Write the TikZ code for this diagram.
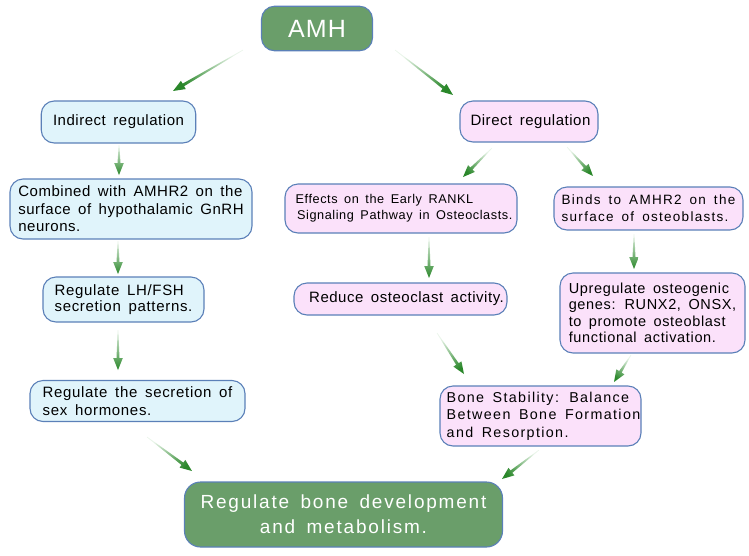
\documentclass[tikz,border=0pt]{standalone}
\usepackage{fontspec}
\setmainfont{Liberation Sans}[LetterSpace=5]
\newfontfamily\fa{Liberation Sans}[LetterSpace=3.5,WordSpace=1.6]
\newfontfamily\fb{Liberation Sans}[LetterSpace=4.5,WordSpace=1.6]
\newfontfamily\fd{Liberation Sans}[LetterSpace=9.5,WordSpace=1.6]
\usetikzlibrary{calc}
\definecolor{gfill}{HTML}{6A9E6A}
\definecolor{bord}{HTML}{5B80B8}
\definecolor{bfill}{HTML}{E0F4FB}
\definecolor{pfill}{HTML}{FBE1FA}
\definecolor{adark}{HTML}{2A872A}
\definecolor{alight}{HTML}{EAF5EA}
\tikzset{
  box/.style={draw=bord, line width=1.1pt, rounded corners=13pt, inner xsep=0pt, inner ysep=0pt, text=black},
  bbox/.style={box, fill=bfill},
  pbox/.style={box, fill=pfill},
  gbox/.style={box, fill=gfill, text=white},
}
\newcommand\garrow[2]{%
  \path (#1); \pgfgetlastxy{\gax}{\gay}%
  \path (#2); \pgfgetlastxy{\gbx}{\gby}%
  \pgfmathsetmacro\gang{atan2(\gby-\gay,\gbx-\gax)}%
  \pgfmathsetmacro\glen{veclen(\gbx-\gax,\gby-\gay)}%
  \pgfmathsetmacro\gsh{\gang+90}%
  \begin{scope}[shift={(#1)},rotate=\gang]
    \shade[left color=alight,right color=adark,shading angle=\gsh]
      (0pt,-0.3pt) -- ({\glen pt-12pt},-1.5pt) -- ({\glen pt-12pt},-4.8pt) -- (\glen pt,0pt)
      -- ({\glen pt-12pt},4.8pt) -- ({\glen pt-12pt},1.5pt) -- (0pt,0.3pt) -- cycle;
  \end{scope}}
\begin{document}
\begin{tikzpicture}[x=1pt,y=-1pt]
\useasboundingbox (0,0) rectangle (749,555);
% nodes
\node[gbox, minimum width=111pt, minimum height=44.5pt, font=\fb\fontsize{25}{28}\selectfont] (amh) at (317,28.5) {AMH};
\node[bbox, minimum width=154.5pt, minimum height=42pt, font=\fa\fontsize{15}{17}\selectfont] (ind) at (118.5,122) {Indirect regulation};
\node[bbox, minimum width=242pt, minimum height=60pt, align=left, font=\fa\fontsize{15}{17.5}\selectfont] (comb) at (131,209) {Combined with AMHR2 on the\\surface of hypothalamic GnRH\\neurons.};
\node[bbox, minimum width=161pt, minimum height=45pt, align=left, font=\fb\fontsize{15}{16.7}\selectfont] (lh) at (123.5,299.5) {Regulate LH/FSH\\secretion patterns.};
\node[bbox, minimum width=215pt, minimum height=41pt, align=left, font=\fb\fontsize{15}{18}\selectfont] (sex) at (137.5,401) {Regulate the secretion of\\sex hormones.\hspace*{7pt}};
\node[pbox, minimum width=138pt, minimum height=41pt, font=\fa\fontsize{15}{17}\selectfont] (dir) at (529,121.5) {\hspace*{3pt}Direct regulation};
\node[pbox, minimum width=232pt, minimum height=49pt, align=left, font=\fb\fontsize{12.7}{16}\selectfont] (eff) at (401,208.5) {\hspace*{6pt}Effects on the Early RANKL\\\hspace*{7.5pt}Signaling Pathway in Osteoclasts.};
\node[pbox, minimum width=189pt, minimum height=43pt, align=left, font=\fd\fontsize{13.5}{16.7}\selectfont] (binds) at (648.5,208.5) {Binds to AMHR2 on the\\surface of osteoblasts.};
\node[pbox, minimum width=213pt, minimum height=32pt, font=\fa\fontsize{15}{17}\selectfont] (red) at (400.5,299) {\hspace*{12pt}Reduce osteoclast activity.};
\node[pbox, minimum width=185pt, minimum height=80pt, align=left, font=\fb\fontsize{14.5}{16.5}\selectfont] (upr) at (652.5,313) {Upregulate osteogenic\\genes: RUNX2, ONSX,\\to promote osteoblast\\functional activation.};
\node[pbox, minimum width=201pt, minimum height=60pt, align=left, font=\fd\fontsize{14.3}{17.5}\selectfont] (stab) at (540.5,416) {\hspace*{6pt}Bone Stability: Balance\\\hspace*{6pt}Between Bone Formation\\\hspace*{6pt}and Resorption.};
\node[gbox, minimum width=318pt, minimum height=65pt, align=center, rounded corners=16pt, font=\fd\fontsize{19}{25}\selectfont] (bone) at (343.5,514.5) {Regulate bone development\\and metabolism.};
% arrow end points
\coordinate (a1s) at (243,50);  \coordinate (a1e) at (173,91);
\coordinate (a2s) at (395,50);  \coordinate (a2e) at (453,95);
\coordinate (a3s) at (119,145); \coordinate (a3e) at (119,175);
\coordinate (a4s) at (118,241); \coordinate (a4e) at (118,274);
\coordinate (a5s) at (118,330); \coordinate (a5e) at (118,370);
\coordinate (a6s) at (147,437); \coordinate (a6e) at (192,471);
\coordinate (a7s) at (492,148); \coordinate (a7e) at (463,177);
\coordinate (a8s) at (567,147); \coordinate (a8e) at (593,176);
\coordinate (a9s) at (429,237); \coordinate (a9e) at (429,278);
\coordinate (a10s) at (634,234); \coordinate (a10e) at (634,269);
\coordinate (a11s) at (437,333); \coordinate (a11e) at (464,374);
\coordinate (a12s) at (631,355); \coordinate (a12e) at (614,382);
\coordinate (a13s) at (539,450); \coordinate (a13e) at (502,479);
\garrow{a1s}{a1e}
\garrow{a2s}{a2e}
\garrow{a3s}{a3e}
\garrow{a4s}{a4e}
\garrow{a5s}{a5e}
\garrow{a6s}{a6e}
\garrow{a7s}{a7e}
\garrow{a8s}{a8e}
\garrow{a9s}{a9e}
\garrow{a10s}{a10e}
\garrow{a11s}{a11e}
\garrow{a12s}{a12e}
\garrow{a13s}{a13e}
\end{tikzpicture}
\end{document}
